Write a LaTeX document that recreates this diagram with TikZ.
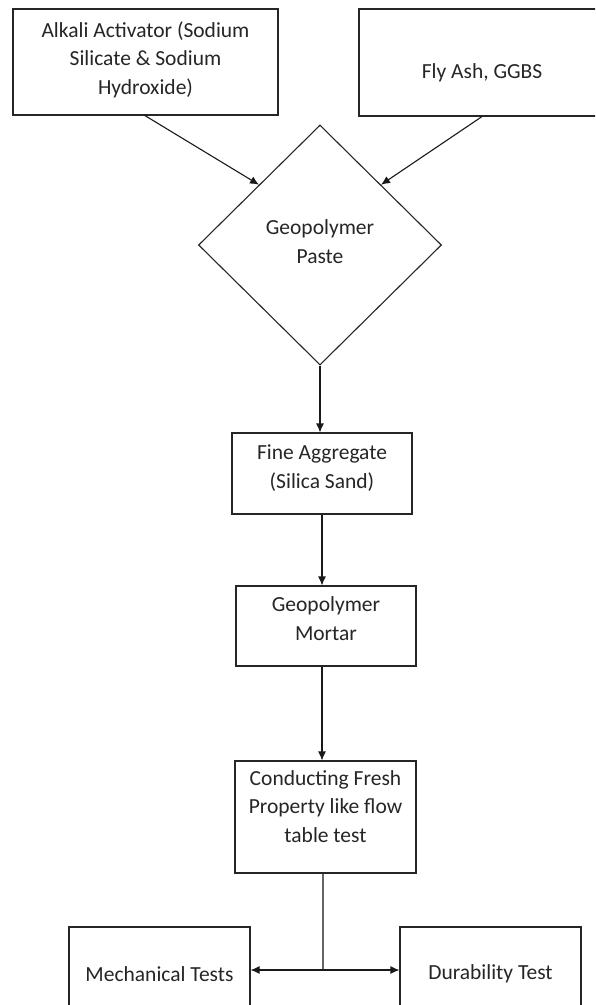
\documentclass[tikz,border=0pt]{standalone}
\usepackage{fontspec}
\setmainfont{Carlito}
\usetikzlibrary{shapes.geometric,arrows.meta}
\newcommand\txt[2]{\raisebox{\dimexpr-#1pt-5.4pt\relax}[0pt][0pt]{\begin{tabular}{@{}c@{}}#2\end{tabular}}}
\begin{document}
\begin{tikzpicture}[x=1pt,y=-1pt,
  box/.style={draw=black!85,line width=1.1pt,rectangle,inner sep=0pt,align=center,
    font=\fontsize{21.5}{28.5}\selectfont,text=black!85},
  dia/.style={draw=black!85,line width=1.1pt,diamond,inner sep=0pt,align=center,
    font=\fontsize{21.5}{28.5}\selectfont,text=black!85},
  arr/.style={draw=black!90,line width=1.1pt,-{Latex[length=9pt,width=8pt]}},
  lng/.style={draw=black!60,line width=1.4pt}]
\useasboundingbox (0,0) rectangle (595,1005);
\clip (0,0) rectangle (595,1005);
\fill[white] (0,0) rectangle (595,1005);
% top boxes
\node[box,minimum width=265pt,minimum height=106pt] (b1) at (145.5,62) {\txt{-2}{Alkali Activator (Sodium\\Silicate \& Sodium\\Hydroxide)}};
\node[box,minimum width=246pt,minimum height=107pt] (b2) at (482,62.5) {\txt{10}{Fly Ash, GGBS}};
% diamond
\node[dia,minimum width=243pt,minimum height=240pt] (d) at (320,245) {\txt{-2}{Geopolymer\\Paste}};
% chain boxes
\node[box,minimum width=180pt,minimum height=81pt] (fa) at (322,473.5) {\txt{-5.5}{Fine Aggregate\\(Silica Sand)}};
\node[box,minimum width=180pt,minimum height=80pt] (gm) at (326,626) {\txt{-6}{Geopolymer\\Mortar}};
\node[box,minimum width=181pt,minimum height=112pt] (cf) at (325.5,817) {\txt{-9}{Conducting Fresh\\Property like flow\\table test}};
% bottom boxes
\node[box,minimum width=181pt,minimum height=98pt] (mt) at (159.5,976) {\txt{0}{Mechanical Tests}};
\node[box,minimum width=181pt,minimum height=98pt] (dt) at (490.5,976) {\txt{-2}{Durability Test}};
\coordinate (j) at (323,970);
% connectors
\draw[arr] (144,115) -- (d.north west);
\draw[arr] (b2.south) -- (d.north east);
\draw[arr] (d.south) -- (fa.north -| d.south);
\draw[arr] (fa.south -| 322,0) -- (gm.north -| 322,0);
\draw[arr] (gm.south -| 322,0) -- (cf.north -| 322,0);
\draw[lng] (cf.south -| j) -- (j);
\draw[arr] (j) -- (mt.east |- j);
\draw[arr] (j) -- (dt.west |- j);
\end{tikzpicture}
\end{document}
